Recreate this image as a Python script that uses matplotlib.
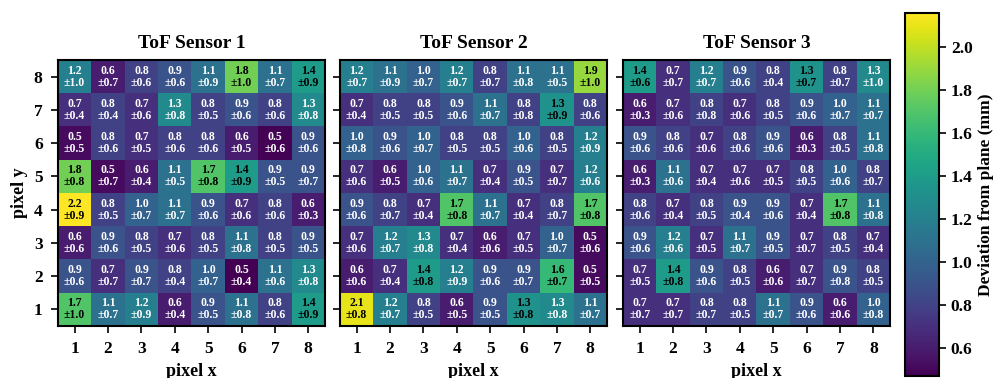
import numpy as np
import matplotlib
matplotlib.use("Agg")
import matplotlib.pyplot as plt

plt.rcParams['font.family'] = ['Liberation Serif', 'DejaVu Serif']
plt.rcParams['font.weight'] = 'bold'

titles = ["ToF Sensor 1", "ToF Sensor 2", "ToF Sensor 3"]
pixel_ticks = [1, 2, 3, 4, 5, 6, 7, 8]

# rows listed from pixel y = 8 (top) down to pixel y = 1 (bottom)
mean1 = [
    [1.20, 0.60, 0.80, 0.90, 1.10, 1.80, 1.10, 1.40],
    [0.70, 0.80, 0.70, 1.27, 0.80, 0.90, 0.80, 1.28],
    [0.52, 0.80, 0.70, 0.80, 0.80, 0.60, 0.48, 0.90],
    [1.80, 0.52, 0.60, 1.10, 1.70, 1.40, 0.90, 0.90],
    [2.16, 0.80, 1.00, 1.10, 0.90, 0.70, 0.80, 0.60],
    [0.60, 0.90, 0.80, 0.70, 0.80, 1.10, 0.80, 0.90],
    [0.90, 0.70, 0.90, 0.80, 1.00, 0.47, 1.10, 1.28],
    [1.70, 1.10, 1.20, 0.60, 0.90, 1.10, 0.80, 1.40],
]
std1 = [
    [1.0, 0.7, 0.6, 0.6, 0.9, 1.0, 0.7, 0.9],
    [0.4, 0.4, 0.6, 0.8, 0.5, 0.6, 0.6, 0.8],
    [0.5, 0.6, 0.5, 0.6, 0.6, 0.5, 0.6, 0.6],
    [0.8, 0.7, 0.4, 0.5, 0.8, 0.9, 0.5, 0.7],
    [0.9, 0.5, 0.7, 0.7, 0.6, 0.6, 0.6, 0.3],
    [0.6, 0.6, 0.5, 0.6, 0.5, 0.8, 0.5, 0.5],
    [0.6, 0.7, 0.7, 0.4, 0.7, 0.4, 0.6, 0.8],
    [1.0, 0.7, 0.9, 0.4, 0.5, 0.8, 0.6, 0.9],
]
mean2 = [
    [1.20, 1.10, 1.00, 1.20, 0.80, 1.10, 1.10, 1.90],
    [0.70, 0.80, 0.80, 0.90, 1.10, 0.80, 1.34, 0.80],
    [1.00, 0.90, 1.00, 0.80, 0.80, 1.00, 0.80, 1.20],
    [0.70, 0.60, 1.00, 1.10, 0.70, 0.90, 0.70, 1.20],
    [0.90, 0.80, 0.70, 1.70, 1.10, 0.70, 0.80, 1.70],
    [0.70, 1.20, 1.27, 0.70, 0.60, 0.70, 1.00, 0.52],
    [0.60, 0.70, 1.40, 1.20, 0.90, 0.90, 1.60, 0.52],
    [2.10, 1.20, 0.80, 0.60, 0.90, 1.34, 1.27, 1.10],
]
std2 = [
    [0.7, 0.9, 0.7, 0.7, 0.7, 0.8, 0.5, 1.0],
    [0.4, 0.5, 0.5, 0.6, 0.7, 0.8, 0.9, 0.6],
    [0.8, 0.6, 0.7, 0.5, 0.5, 0.6, 0.5, 0.9],
    [0.6, 0.5, 0.6, 0.7, 0.4, 0.5, 0.7, 0.6],
    [0.6, 0.7, 0.4, 0.8, 0.7, 0.4, 0.7, 0.8],
    [0.6, 0.7, 0.8, 0.4, 0.6, 0.5, 0.7, 0.6],
    [0.6, 0.4, 0.8, 0.9, 0.6, 0.7, 0.7, 0.5],
    [0.8, 0.7, 0.5, 0.5, 0.5, 0.8, 0.8, 0.7],
]
mean3 = [
    [1.40, 0.70, 1.20, 0.90, 0.80, 1.34, 0.80, 1.27],
    [0.60, 0.70, 0.80, 0.70, 0.80, 0.90, 1.00, 1.10],
    [0.90, 0.80, 0.70, 0.80, 0.90, 0.60, 0.80, 1.10],
    [0.60, 1.10, 0.70, 0.70, 0.70, 0.80, 1.00, 0.80],
    [0.80, 0.70, 0.80, 0.90, 0.90, 0.70, 1.70, 1.10],
    [0.90, 1.20, 0.70, 1.10, 0.90, 0.70, 0.80, 0.70],
    [0.70, 1.40, 0.90, 0.80, 0.60, 0.70, 0.90, 0.80],
    [0.70, 0.70, 0.80, 0.80, 1.10, 0.90, 0.60, 1.00],
]
std3 = [
    [0.6, 0.7, 0.7, 0.6, 0.4, 0.7, 0.7, 1.0],
    [0.3, 0.6, 0.8, 0.6, 0.5, 0.6, 0.7, 0.7],
    [0.6, 0.6, 0.6, 0.6, 0.6, 0.3, 0.5, 0.8],
    [0.3, 0.6, 0.4, 0.6, 0.5, 0.5, 0.6, 0.7],
    [0.6, 0.4, 0.5, 0.4, 0.6, 0.4, 0.8, 0.8],
    [0.6, 0.6, 0.5, 0.7, 0.5, 0.7, 0.5, 0.4],
    [0.5, 0.8, 0.6, 0.5, 0.6, 0.7, 0.8, 0.5],
    [0.7, 0.7, 0.7, 0.5, 0.7, 0.6, 0.6, 0.8],
]

means = [np.array(mean1), np.array(mean2), np.array(mean3)]
stds = [np.array(std1), np.array(std2), np.array(std3)]

vmin = min(m.min() for m in means)
vmax = max(m.max() for m in means)
mid = (vmin + vmax) / 2

W, H = 1006, 378
fig = plt.figure(figsize=(W / 100, H / 100), dpi=100)

lefts = [58, 340, 623]
axes = []
for i, lp in enumerate(lefts):
    ax = fig.add_axes([lp / W, (H - 326) / H, 267 / W, 266 / H])
    im = ax.imshow(means[i], cmap='viridis', vmin=vmin, vmax=vmax,
                   extent=(0.5, 8.5, 0.5, 8.5), origin='upper', aspect='auto')
    for r in range(8):
        for c in range(8):
            m = means[i][r, c]
            s = stds[i][r, c]
            ax.text(c + 1, 8 - r, f"{m:.1f}\n±{s:.1f}", ha='center', va='center',
                    fontsize=8.5, fontweight='bold', linespacing=1.0,
                    color='black' if m > mid else 'white')
    ax.set_xticks(pixel_ticks)
    ax.set_yticks(pixel_ticks)
    ax.set_xticklabels([str(t) for t in pixel_ticks], fontsize=12.5, fontweight='bold')
    if i == 0:
        ax.set_yticklabels([str(t) for t in pixel_ticks], fontsize=12.5, fontweight='bold')
        ax.set_ylabel("pixel y", fontsize=13, fontweight='bold')
    else:
        ax.set_yticklabels([])
    ax.set_xlabel("pixel x", fontsize=13, fontweight='bold')
    ax.set_title(titles[i], fontsize=14, fontweight='bold', pad=9)
    ax.tick_params(length=5, width=1.2, pad=6)
    for sp in ax.spines.values():
        sp.set_linewidth(1.5)
    axes.append(ax)

cax = fig.add_axes([905 / W, (H - 376) / H, 34 / W, 363 / H])
cb = fig.colorbar(im, cax=cax)
cb.set_label("Deviation from plane (mm)", fontsize=12.5, fontweight='bold')
cb.ax.tick_params(labelsize=12.5, length=5, width=1.2)
for lab in cb.ax.get_yticklabels():
    lab.set_fontweight('bold')
cb.outline.set_linewidth(1.5)

fig.savefig("out.png", dpi=100)
